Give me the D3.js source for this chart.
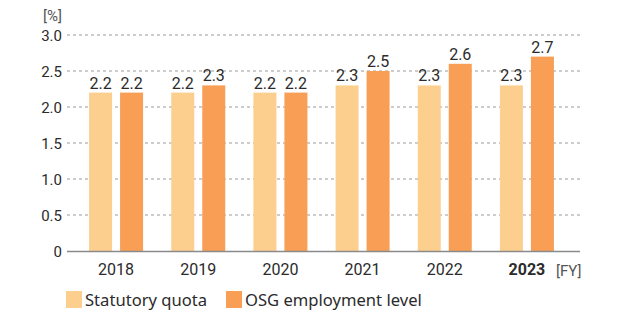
<!DOCTYPE html>
<html>
<head>
<meta charset="utf-8">
<script src="https://cdn.jsdelivr.net/npm/d3@7"></script>
<style>
  html, body { margin: 0; padding: 0; background: #fff; }
  svg { display: block; }
</style>
</head>
<body>
<svg id="chart" width="620" height="326"></svg>
<script>
// Employment rate of persons with disabilities, by fiscal year
const years = ["2018", "2019", "2020", "2021", "2022", "2023"];
const statutoryQuota = [2.2, 2.2, 2.2, 2.3, 2.3, 2.3];
const osgLevel = [2.2, 2.3, 2.2, 2.5, 2.6, 2.7];
const yTicks = [0, 0.5, 1.0, 1.5, 2.0, 2.5, 3.0];
const seriesNames = ["Statutory quota", "OSG employment level"];
const seriesColors = ["#FCCF8F", "#F89E55"];

const svg = d3.select("#chart");
const textColor = "#2b2b2b";
const numFont = "Roboto, 'Noto Sans', sans-serif";

const y = d3.scaleLinear().domain([0, 3.0]).range([251, 35]);
const x = d3.scaleBand().domain(years).range([75, 568]);
const barW = 23;

// dashed gridlines
svg.append("g")
  .selectAll("line")
  .data(yTicks.filter(d => d > 0))
  .join("line")
  .attr("x1", 67).attr("x2", 580)
  .attr("y1", d => y(d)).attr("y2", d => y(d))
  .attr("stroke", "#9a9a9a")
  .attr("stroke-width", 1)
  .attr("stroke-dasharray", "3,3");

// y axis labels
const yAxis = d3.axisLeft(y).tickValues(yTicks)
  .tickFormat(d => d === 0 ? "0" : d3.format(".1f")(d))
  .tickSize(0).tickPadding(0);
const ya = svg.append("g").attr("transform", "translate(62,0)").call(yAxis);
ya.select(".domain").remove();
ya.selectAll("text")
  .attr("font-family", numFont).attr("font-size", 15)
  .attr("fill", textColor).attr("dy", "0.36em");

svg.append("text")
  .attr("x", 62).attr("y", 21)
  .attr("text-anchor", "end")
  .attr("font-family", numFont).attr("font-size", 15)
  .attr("fill", "#555")
  .text("[%]");

// bars
const groups = svg.append("g").selectAll("g")
  .data(years)
  .join("g");

const series = [statutoryQuota, osgLevel];
const offsets = [-27, 4];
series.forEach((vals, si) => {
  groups.append("rect")
    .attr("x", (d, i) => x(d) + x.bandwidth() / 2 + offsets[si])
    .attr("y", (d, i) => y(vals[i]))
    .attr("width", barW)
    .attr("height", (d, i) => y(0) - y(vals[i]))
    .attr("fill", seriesColors[si]);
  groups.append("text")
    .attr("x", (d, i) => x(d) + x.bandwidth() / 2 + offsets[si] + barW / 2)
    .attr("y", (d, i) => y(vals[i]) - 4)
    .attr("text-anchor", "middle")
    .attr("font-family", numFont).attr("font-size", 16)
    .attr("fill", textColor)
    .text((d, i) => d3.format(".1f")(vals[i]));
});

// baseline
svg.append("line")
  .attr("x1", 67).attr("x2", 580)
  .attr("y1", y(0) + 0.5).attr("y2", y(0) + 0.5)
  .attr("stroke", "#8a8a8a").attr("stroke-width", 1.5);

// x axis labels
const xAxis = d3.axisBottom(x).tickSize(0).tickPadding(0);
const xa = svg.append("g").attr("transform", "translate(0,264)").call(xAxis);
xa.select(".domain").remove();
xa.selectAll("text")
  .attr("font-family", numFont).attr("font-size", 16)
  .attr("fill", textColor)
  .attr("dy", "0.71em")
  .attr("font-weight", d => d === "2023" ? "bold" : "normal");

svg.append("text")
  .attr("x", 556).attr("y", 276)
  .attr("font-family", numFont).attr("font-size", 15)
  .attr("fill", "#555")
  .text("[FY]");

// legend
const legendX = [66, 226];
const legend = svg.append("g").selectAll("g")
  .data(seriesNames)
  .join("g")
  .attr("transform", (d, i) => `translate(${legendX[i]},291)`);
legend.append("rect")
  .attr("width", 16).attr("height", 17)
  .attr("fill", (d, i) => seriesColors[i]);
legend.append("text")
  .attr("x", 19).attr("y", 15)
  .attr("font-family", "'Noto Sans', 'Open Sans', sans-serif")
  .attr("font-size", 16.6)
  .attr("fill", textColor)
  .text(d => d);
</script>
</body>
</html>
